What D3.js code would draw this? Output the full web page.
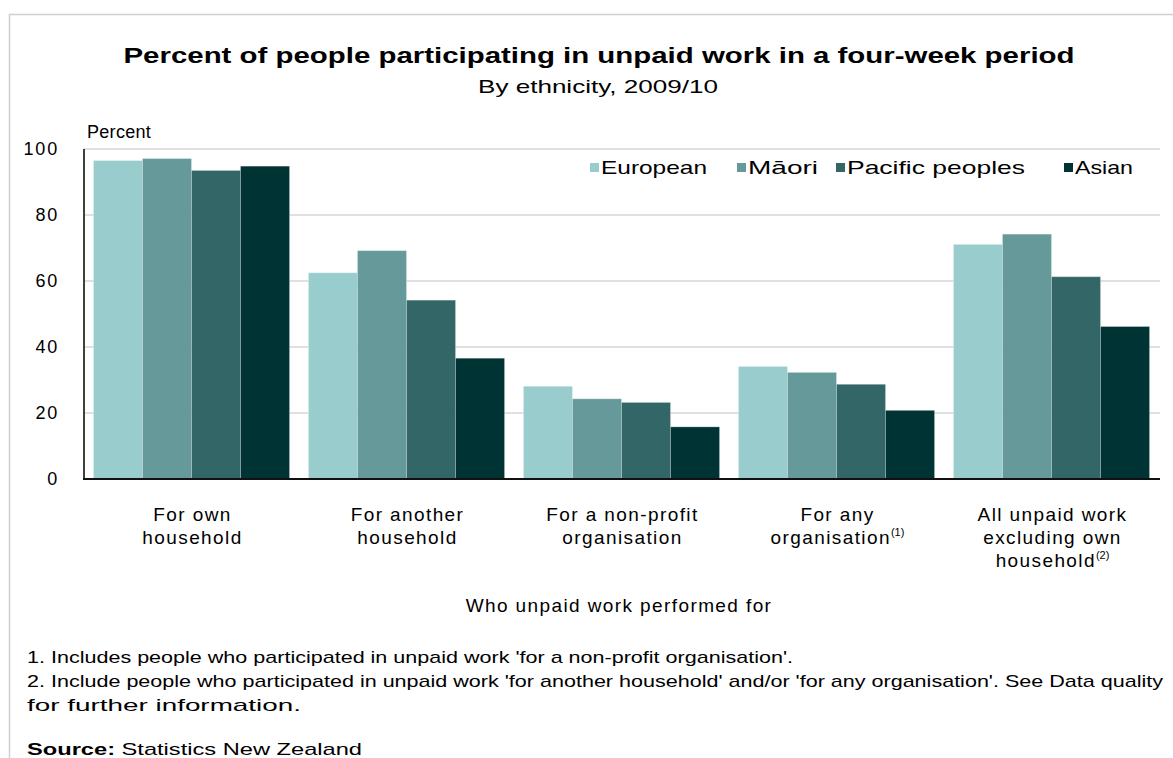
<!DOCTYPE html>
<html>
<head>
<meta charset="utf-8">
<script src="https://cdn.jsdelivr.net/npm/d3@7"></script>
<style>
  html, body { margin: 0; padding: 0; background: #fff; }
  svg { display: block; font-family: "Liberation Sans", Arial, sans-serif; }
</style>
</head>
<body>
<svg id="chart" width="1173" height="758"></svg>
<script>
// Unpaid work participation by ethnicity, 2009/10
const categories = [
  ["For own", "household"],
  ["For another", "household"],
  ["For a non-profit", "organisation"],
  ["For any", "organisation"],
  ["All unpaid work", "excluding own", "household"]
];
const categoryNotes = ["", "", "", "(1)", "(2)"];
const seriesNames = ["European", "Māori", "Pacific peoples", "Asian"];
const seriesColors = ["#99cccc", "#669999", "#336666", "#003333"];

const european = [96.5, 62.5, 28.1, 34.1, 71.1];
const maori    = [97.1, 69.2, 24.3, 32.3, 74.2];
const pacific  = [93.5, 54.2, 23.2, 28.7, 61.3];
const asian    = [94.8, 36.6, 15.8, 20.8, 46.2];
const seriesValues = [european, maori, pacific, asian];

const yTicks = [0, 20, 40, 60, 80, 100];

const footnotes = [
  "1. Includes people who participated in unpaid work 'for a non-profit organisation'.",
  "2. Include people who participated in unpaid work 'for another household' and/or 'for any organisation'. See Data quality",
  "for further information."
];

const svg = d3.select("#chart");

// outer frame
svg.append("rect")
  .attr("x", 9.5).attr("y", 14.5)
  .attr("width", 1300).attr("height", 900)
  .attr("fill", "none").attr("stroke", "#cfcfcf").attr("stroke-width", 1.5);

// titles
svg.append("text")
  .attr("x", 599).attr("y", 63)
  .attr("text-anchor", "middle")
  .attr("font-size", 22).attr("font-weight", "bold").attr("fill", "#000")
  .attr("textLength", 951).attr("lengthAdjust", "spacingAndGlyphs")
  .text("Percent of people participating in unpaid work in a four-week period");
svg.append("text")
  .attr("x", 598).attr("y", 93)
  .attr("text-anchor", "middle")
  .attr("font-size", 19).attr("fill", "#000")
  .attr("textLength", 240).attr("lengthAdjust", "spacingAndGlyphs")
  .text("By ethnicity, 2009/10");

// plot area
const plotLeft = 84, plotRight = 1159, plotTop = 149, plotBottom = 479;

const y = d3.scaleLinear().domain([0, 100]).range([plotBottom, plotTop]);
const x0 = d3.scaleBand()
  .domain(d3.range(categories.length))
  .range([plotLeft, plotRight])
  .paddingInner(0.088)
  .paddingOuter(0.044);
const x1 = d3.scaleBand()
  .domain(d3.range(seriesNames.length))
  .range([0, x0.bandwidth()])
  .padding(0);

// gridlines
svg.append("g")
  .selectAll("line")
  .data(yTicks.filter(d => d > 0))
  .join("line")
  .attr("x1", plotLeft).attr("x2", plotRight + 1)
  .attr("y1", d => y(d)).attr("y2", d => y(d))
  .attr("stroke", "#d6d6d6").attr("stroke-width", 1.6);

// y axis labels
const yAxis = d3.axisLeft(y).tickValues(yTicks).tickSize(0).tickPadding(0).tickFormat(d3.format("d"));
const gy = svg.append("g").attr("transform", `translate(${plotLeft - 25},0)`).call(yAxis);
gy.select(".domain").remove();
gy.selectAll("text")
  .attr("font-family", "Liberation Sans, Arial, sans-serif")
  .attr("font-size", 18).attr("letter-spacing", 1.8).attr("fill", "#000");

svg.append("text")
  .attr("x", 87).attr("y", 138)
  .attr("font-size", 18).attr("letter-spacing", 0.3).attr("fill", "#000")
  .text("Percent");

// bars
const groups = svg.append("g")
  .selectAll("g")
  .data(categories.map((c, i) => i))
  .join("g")
  .attr("transform", i => `translate(${x0(i)},0)`);

groups.selectAll("rect")
  .data(i => seriesValues.map((vals, s) => ({ s, v: vals[i] })))
  .join("rect")
  .attr("x", d => x1(d.s))
  .attr("y", d => y(d.v))
  .attr("width", x1.bandwidth())
  .attr("height", d => y(0) - y(d.v))
  .attr("fill", d => seriesColors[d.s])
  .attr("stroke", "rgba(255,255,255,0.25)")
  .attr("stroke-width", 1);

// axis lines
svg.append("line")
  .attr("x1", plotLeft).attr("x2", plotLeft)
  .attr("y1", plotTop).attr("y2", plotBottom)
  .attr("stroke", "#111").attr("stroke-width", 1.6);
svg.append("line")
  .attr("x1", plotLeft - 1).attr("x2", plotRight + 1)
  .attr("y1", plotBottom).attr("y2", plotBottom)
  .attr("stroke", "#111").attr("stroke-width", 2);

// category labels
const catLabels = svg.append("g");
categories.forEach((lines, i) => {
  const cx = x0(i) + x0.bandwidth() / 2 + 1;
  const t = catLabels.append("text")
    .attr("x", cx).attr("y", 521)
    .attr("text-anchor", "middle")
    .attr("font-size", 19).attr("letter-spacing", 1.4).attr("fill", "#000");
  lines.forEach((ln, k) => {
    const span = t.append("tspan")
      .attr("x", cx).attr("y", 521 + k * 23)
      .text(ln);
    if (k === lines.length - 1 && categoryNotes[i]) {
      span.append("tspan")
        .attr("font-size", 11)
        .attr("letter-spacing", 0)
        .attr("dy", -8)
        .text(categoryNotes[i]);
    }
  });
});

svg.append("text")
  .attr("x", 619).attr("y", 612)
  .attr("text-anchor", "middle")
  .attr("font-size", 19).attr("letter-spacing", 1.4).attr("fill", "#000")
  .text("Who unpaid work performed for");

// legend
const legendX = [590, 737, 836, 1064];
const legendTextWidths = [106, 70, 178, 58];
const legend = svg.append("g");
seriesNames.forEach((name, s) => {
  legend.append("rect")
    .attr("x", legendX[s]).attr("y", 163)
    .attr("width", 9).attr("height", 9)
    .attr("fill", seriesColors[s]);
  legend.append("text")
    .attr("x", legendX[s] + 11).attr("y", 174)
    .attr("font-size", 19).attr("fill", "#000")
    .attr("textLength", legendTextWidths[s]).attr("lengthAdjust", "spacingAndGlyphs")
    .text(name);
});

// footnotes
const noteWidths = [766, 1136, 274];
footnotes.forEach((txt, k) => {
  svg.append("text")
    .attr("x", 27).attr("y", 663 + k * 24)
    .attr("font-size", 17).attr("fill", "#000")
    .attr("textLength", noteWidths[k]).attr("lengthAdjust", "spacingAndGlyphs")
    .text(txt);
});
const src = svg.append("text")
  .attr("x", 27).attr("y", 755)
  .attr("font-size", 17).attr("fill", "#000")
  .attr("textLength", 335).attr("lengthAdjust", "spacingAndGlyphs");
src.append("tspan").attr("font-weight", "bold").text("Source:");
src.append("tspan").text(" Statistics New Zealand");
</script>
</body>
</html>
